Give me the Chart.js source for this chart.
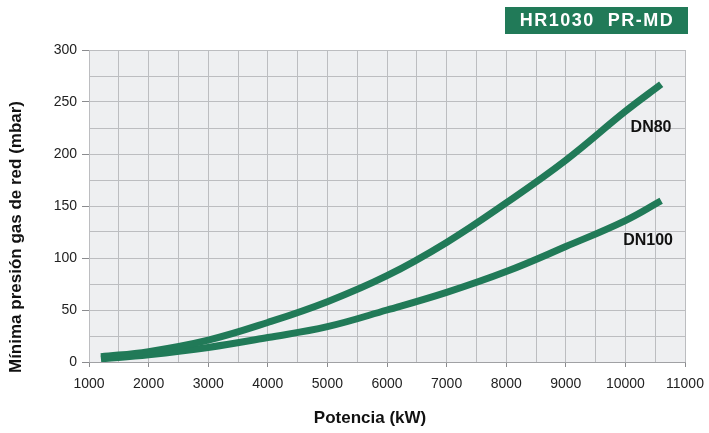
<!DOCTYPE html>
<html>
<head>
<meta charset="utf-8">
<script src="https://cdn.jsdelivr.net/npm/chart.js@4"></script>
<style>
  html, body { margin: 0; padding: 0; background: #fff; }
  #wrap { width: 709px; height: 433px; position: relative; }
</style>
</head>
<body>
<div id="wrap"><canvas id="myChart"></canvas></div>
<script>
// potencia (kW)
const potencia = [1200, 2000, 3000, 4000, 5000, 6000, 7000, 8000, 9000, 10000, 10600];
// minima presion (mbar)
const dn80 = [5, 10, 21, 38, 58, 83, 115, 153, 194, 241, 267];
const dn100 = [3, 7, 14, 23.5, 34, 50, 67, 87, 111, 136, 155];
const seriesNames = ['DN80', 'DN100'];
const chartTitle = 'HR1030  PR-MD';
const xTitle = 'Potencia (kW)';
const yTitle = 'Mínima presión gas de red (mbar)';

const green = '#217a58';
const gridColor = '#bcbdc0';
const family = '"Liberation Sans", Arial, sans-serif';

function toPoints(ys) {
    return potencia.map((x, i) => ({ x: x, y: ys[i] }));
}

// plot background, title box, axis titles and curve labels
const decor = {
    id: 'decor',
    beforeDraw(chart) {
        const a = chart.chartArea;
        const ctx = chart.ctx;
        ctx.save();
        ctx.fillStyle = '#eeeff1';
        ctx.fillRect(a.left, a.top, a.right - a.left, a.bottom - a.top);
        ctx.restore();
    },
    afterDraw(chart) {
        const ctx = chart.ctx;
        const xs = chart.scales.x, ys = chart.scales.y;
        ctx.save();
        // title box
        ctx.fillStyle = green;
        ctx.fillRect(505, 7, 183, 27);
        ctx.fillStyle = '#fff';
        ctx.font = 'bold 18px ' + family;
        ctx.letterSpacing = '1.5px';
        ctx.textAlign = 'center';
        ctx.textBaseline = 'middle';
        ctx.fillText(chartTitle, 597, 21);
        ctx.letterSpacing = '0px';
        // labels next to the curves
        ctx.fillStyle = '#111';
        ctx.font = 'bold 16px ' + family;
        ctx.fillText(seriesNames[0], xs.getPixelForValue(10430), ys.getPixelForValue(225));
        ctx.fillText(seriesNames[1], xs.getPixelForValue(10380), ys.getPixelForValue(117));
        // axis titles
        ctx.font = 'bold 17px ' + family;
        ctx.fillText(xTitle, 370, 418);
        ctx.translate(16, 237);
        ctx.rotate(-Math.PI / 2);
        ctx.fillText(yTitle, 0, 0);
        ctx.restore();
    }
};

const tickFont = { family: family, size: 14 };

const data = {
    datasets: [
        { label: seriesNames[0], data: toPoints(dn80) },
        { label: seriesNames[1], data: toPoints(dn100) }
    ].map(d => Object.assign(d, {
        borderColor: green,
        borderWidth: 7,
        pointRadius: 0,
        fill: false,
        tension: 0.4
    }))
};

const config = {
    type: 'line',
    data: data,
    options: {
        responsive: true,
        maintainAspectRatio: false,
        animation: false,
        layout: { padding: { top: 50, right: 24, left: 0, bottom: 0 } },
        plugins: {
            legend: { display: false },
            tooltip: { enabled: false }
        },
        scales: {
            x: {
                type: 'linear',
                min: 1000,
                max: 11000,
                afterFit: s => { s.height = 71; s.paddingLeft = 0; s.paddingRight = 0; },
                border: { display: true, color: '#a0a1a4' },
                grid: {
                    color: gridColor,
                    tickLength: 5,
                    tickColor: c => (c.tick && c.tick.value % 1000 === 0) ? '#8a8b8e' : 'rgba(0,0,0,0)'
                },
                ticks: {
                    stepSize: 500,
                    autoSkip: false,
                    maxRotation: 0,
                    color: '#222',
                    font: tickFont,
                    padding: 9,
                    callback: v => v % 1000 === 0 ? String(v) : ''
                }
            },
            y: {
                min: 0,
                max: 300,
                afterFit: s => { s.width = 89; s.paddingTop = 0; s.paddingBottom = 0; },
                border: { display: false },
                grid: {
                    color: gridColor,
                    tickLength: 7,
                    tickColor: c => (c.tick && c.tick.value % 50 === 0) ? '#8a8b8e' : 'rgba(0,0,0,0)'
                },
                ticks: {
                    stepSize: 25,
                    autoSkip: false,
                    color: '#222',
                    font: tickFont,
                    padding: 5,
                    callback: v => v % 50 === 0 ? String(v) : ''
                }
            }
        }
    },
    plugins: [decor]
};

const myChart = new Chart(document.getElementById('myChart'), config);
</script>
</body>
</html>
